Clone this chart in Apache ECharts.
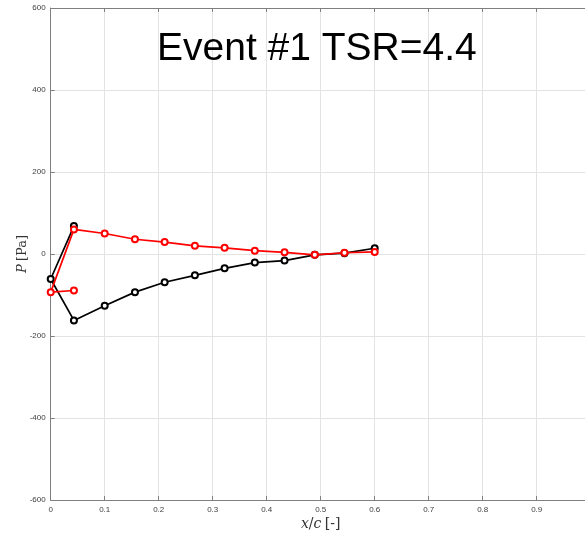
<!DOCTYPE html>
<html>
<head>
<meta charset="utf-8">
<script src="https://cdn.jsdelivr.net/npm/echarts@6/dist/echarts.min.js"></script>
<style>html,body{margin:0;padding:0;background:#fff;}#c{width:585px;height:534px;}</style>
</head>
<body>
<div id="c"></div>
<script>
var xBlack = [0.043, 0, 0.043, 0.1, 0.156, 0.211, 0.267, 0.322, 0.378, 0.433, 0.489, 0.544, 0.6];
var pBlack = [68, -61, -162, -126, -93, -69, -52, -35, -21, -16, -2, 2, 14];
var xRed = [0.043, 0, 0.043, 0.1, 0.156, 0.211, 0.267, 0.322, 0.378, 0.433, 0.489, 0.544, 0.6];
var pRed = [-89, -93, 60, 50, 36, 29, 20, 15, 8, 4, -2, 3, 5];
var titleText = 'Event #1 TSR=4.4';

function pairs(xs, ys) { return xs.map(function (x, i) { return [x, ys[i]]; }); }

var chart = echarts.init(document.getElementById('c'));
var axisColor = '#7f7f7f';
var tickLabel = { fontSize: 8, color: '#404040', fontFamily: 'Liberation Sans' };
chart.setOption({
  animation: false,
  backgroundColor: '#fff',
  grid: { left: 50.7, right: -5.7, top: 8, bottom: 34, containLabel: false, outerBoundsMode: 'none' },
  graphic: [{
    type: 'text', left: 157, top: 30, z: 100,
    style: { text: titleText, font: '39px "Liberation Sans"', fill: '#000' }
  }],
  xAxis: [{
    type: 'value', min: 0, max: 1, interval: 0.1, position: 'bottom',
    axisLine: { show: true, onZero: false, lineStyle: { color: axisColor, width: 1 } },
    axisTick: { show: true, inside: true, length: 4, lineStyle: { color: axisColor } },
    axisLabel: Object.assign({ margin: 6 }, tickLabel),
    splitLine: { show: true, lineStyle: { color: '#e3e3e3', width: 1 } },
    name: '{i|x}{n|/}{i|c} {n|[-]}', nameLocation: 'middle', nameGap: 17, nameMoveOverlap: false,
    nameTextStyle: { rich: {
      i: { fontFamily: 'DejaVu Serif', fontStyle: 'italic', fontSize: 14, color: '#333' },
      n: { fontFamily: 'DejaVu Serif', fontSize: 14, color: '#333' } } }
  }, {
    type: 'value', min: 0, max: 1, interval: 0.1, position: 'top',
    axisLine: { show: true, onZero: false, lineStyle: { color: axisColor, width: 1 } },
    axisTick: { show: true, inside: true, length: 4, lineStyle: { color: axisColor } },
    axisLabel: { show: false }, splitLine: { show: false }
  }],
  yAxis: [{
    type: 'value', min: -600, max: 600, interval: 200,
    axisLine: { show: true, onZero: false, lineStyle: { color: axisColor, width: 1 } },
    axisTick: { show: true, inside: true, length: 4, lineStyle: { color: axisColor } },
    axisLabel: Object.assign({ margin: 5 }, tickLabel),
    splitLine: { show: true, lineStyle: { color: '#e3e3e3', width: 1 } },
    name: '{i|P} {n|[Pa]}', nameLocation: 'middle', nameRotate: 90, nameGap: 22, nameMoveOverlap: false,
    nameTextStyle: { rich: {
      i: { fontFamily: 'DejaVu Serif', fontStyle: 'italic', fontSize: 13, color: '#333' },
      n: { fontFamily: 'DejaVu Serif', fontSize: 13, color: '#333' } } }
  }],
  series: [{
    type: 'line', data: pairs(xBlack, pBlack), symbol: 'emptyCircle', symbolSize: 6,
    lineStyle: { color: '#000', width: 1.7 },
    itemStyle: { color: '#000', borderColor: '#000', borderWidth: 1.5 },
    z: 2
  }, {
    type: 'line', data: pairs(xRed, pRed), symbol: 'emptyCircle', symbolSize: 6,
    lineStyle: { color: '#ff0000', width: 1.7 },
    itemStyle: { color: '#ff0000', borderColor: '#ff0000', borderWidth: 1.5 },
    z: 3
  }]
});
</script>
</body>
</html>
